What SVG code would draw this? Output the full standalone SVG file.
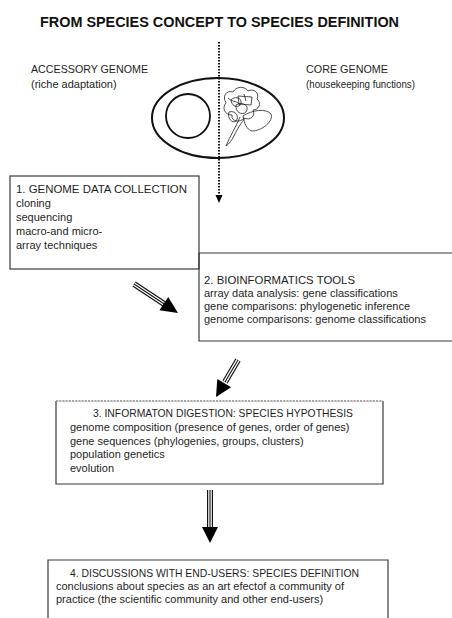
<svg xmlns="http://www.w3.org/2000/svg" width="452" height="618" viewBox="0 0 452 618">
  <style>
    text { font-family: "Liberation Sans", Arial, sans-serif; fill: #1e1e1e; font-size: 11px; }
    .title { font-size: 14px; font-weight: bold; fill: #111; }
    .box { fill: none; stroke: #3a3a3a; stroke-width: 1.2; }
    .thin { fill: none; stroke: #222; stroke-width: 0.8; stroke-linejoin: round; }
    .shaft-out { stroke: #111; stroke-width: 6; }
    .shaft-in { stroke: #fff; stroke-width: 3.6; }
    .shaft-mid { stroke: #111; stroke-width: 1.1; }
    .head { fill: #000; }
  </style>

  <text class="title" x="40" y="27" textLength="359" lengthAdjust="spacingAndGlyphs">FROM SPECIES CONCEPT TO SPECIES DEFINITION</text>

  <!-- cell with accessory and core genome -->
  <g id="accessory-label">
    <text x="31" y="73" textLength="117" lengthAdjust="spacingAndGlyphs">ACCESSORY GENOME</text>
    <text x="31" y="88">(riche adaptation)</text>
  </g>
  <g id="core-label">
    <text x="306" y="73" textLength="82" lengthAdjust="spacingAndGlyphs">CORE GENOME</text>
    <text x="306" y="88" textLength="109" lengthAdjust="spacingAndGlyphs">(housekeeping functions)</text>
  </g>
  <g id="cell">
    <ellipse cx="218" cy="118" rx="66" ry="40" fill="none" stroke="#111" stroke-width="2"/>
    <circle cx="188" cy="116" r="22" fill="none" stroke="#111" stroke-width="1.8"/>
    <!-- coiled chromosome -->
    <path class="thin" d="M226,103 C222,96 226,90 233,92 C236,86 245,86 248,91 C254,88 260,93 257,99 C262,103 259,110 253,110 C256,116 250,121 244,118 C240,123 231,122 232,115 C224,115 222,107 226,103 Z"/>
    <path class="thin" d="M231,100 C234,96 242,97 241,103 C240,108 232,108 231,100 Z M238,96 L252,97 L251,105 L239,104 Z M236,105 C243,101 250,106 246,112 C242,116 235,112 236,105 Z"/>
    <path class="thin" d="M243,116 C252,110 266,108 271,114 C274,121 262,131 252,131 C247,130 244,123 243,116 Z"/>
    <path class="thin" d="M240,117 C236,127 230,136 226,146 C229,144 232,140 234,136 C237,129 242,122 245,118"/>
    <path class="thin" d="M229,112 C235,110 240,116 236,121 C232,124 227,118 229,112 M244,94 L246,101 M228,98 C233,103 238,100 240,106"/>
  </g>

  <g id="box1">
    <rect class="box" x="10" y="176" width="189" height="93"/>
    <text x="16" y="193" textLength="171" lengthAdjust="spacingAndGlyphs">1. GENOME DATA COLLECTION</text>
    <text x="16" y="207">cloning</text>
    <text x="16" y="221">sequencing</text>
    <text x="16" y="235">macro-and micro-</text>
    <text x="16" y="249">array techniques</text>
  </g>

  <g id="box2">
    <path class="box" d="M453,253 H199 V341 H453"/>
    <text x="204" y="284" textLength="151" lengthAdjust="spacingAndGlyphs">2. BIOINFORMATICS TOOLS</text>
    <text x="204" y="297">array data analysis: gene classifications</text>
    <text x="204" y="310">gene comparisons: phylogenetic inference</text>
    <text x="204" y="323">genome comparisons: genome classifications</text>
  </g>

  <g id="box3">
    <path class="box" d="M56,401 V484 H383 V401"/>
    <line x1="56" y1="401" x2="383" y2="401" stroke="#8a8a8a" stroke-width="1.6" stroke-dasharray="2.2 1"/>
    <text x="93" y="417" textLength="260" lengthAdjust="spacingAndGlyphs">3. INFORMATON DIGESTION: SPECIES HYPOTHESIS</text>
    <text x="70" y="431">genome composition (presence of genes, order of genes)</text>
    <text x="70" y="445">gene sequences (phylogenies, groups, clusters)</text>
    <text x="70" y="458">population genetics</text>
    <text x="70" y="472">evolution</text>
  </g>

  <g id="box4">
    <path class="box" d="M48,619 V560 H388 V619"/>
    <text x="70" y="577" textLength="289" lengthAdjust="spacingAndGlyphs">4. DISCUSSIONS WITH END-USERS: SPECIES DEFINITION</text>
    <text x="56" y="590">conclusions about species as an art efectof a community of</text>
    <text x="56" y="603">practice (the scientific community and other end-users)</text>
  </g>

  <g id="connectors">
    <!-- dotted axis through the cell -->
    <line x1="219" y1="42" x2="219" y2="196" stroke="#111" stroke-width="2" stroke-dasharray="1.6 1.4"/>
    <polygon class="head" points="219,203 215.5,195 222.5,195"/>

    <!-- 1 to 2 -->
    <line class="shaft-out" x1="134" y1="284" x2="165" y2="304.5"/>
    <line class="shaft-in" x1="134" y1="284" x2="165" y2="304.5"/>
    <line class="shaft-mid" x1="134" y1="284" x2="165" y2="304.5"/>
    <polygon class="head" points="178,313 159.4,310.3 168.2,296.9"/>

    <!-- 2 to 3 -->
    <line class="shaft-out" x1="238" y1="360" x2="225" y2="382"/>
    <line class="shaft-in" x1="238" y1="360" x2="225" y2="382"/>
    <line class="shaft-mid" x1="238" y1="360" x2="225" y2="382"/>
    <polygon class="head" points="216,397 231.1,387.3 217.3,379.1"/>

    <!-- 3 to 4 -->
    <line class="shaft-out" x1="210" y1="490" x2="210" y2="528"/>
    <line class="shaft-in" x1="210" y1="490" x2="210" y2="528"/>
    <line class="shaft-mid" x1="210" y1="490" x2="210" y2="528"/>
    <polygon class="head" points="210,543 202,527 218,527"/>
  </g>
</svg>
